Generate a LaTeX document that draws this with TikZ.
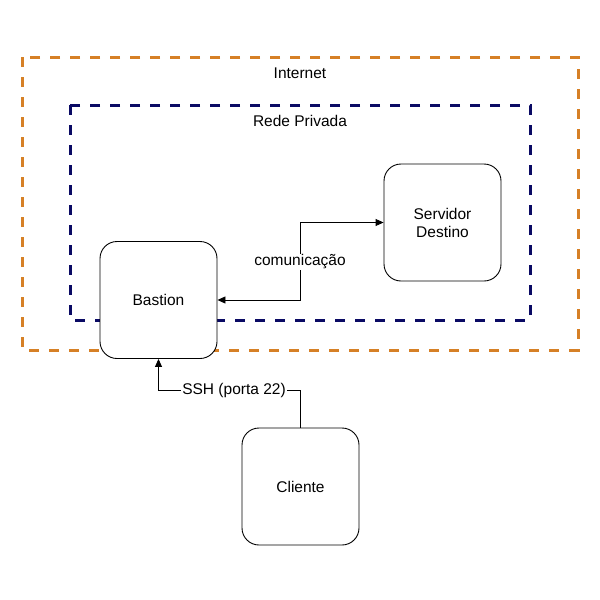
\documentclass[tikz,border=0pt]{standalone}
\usepackage{fontspec}
\setmainfont{Liberation Sans}
\usetikzlibrary{arrows.meta}
\definecolor{orangeline}{RGB}{214,128,38}
\definecolor{navyline}{RGB}{10,10,100}
\begin{document}
\begin{tikzpicture}[x=1pt,y=-1pt,
  font=\fontsize{15.5}{18}\selectfont,
  box/.style={draw=black, line width=0.9pt, rounded corners=17pt, minimum width=117pt, minimum height=117pt, align=center, fill=white, inner sep=0pt},
  zone/.style={line width=3pt, dash pattern=on 10pt off 10pt},
  conn/.style={draw=black, line width=0.9pt},
  tip/.style={-{Triangle[length=8pt,width=7pt]}},
  lbl/.style={fill=white, inner sep=1pt}
]
\useasboundingbox (0,0) rectangle (600,600);
\fill[white] (0,0) rectangle (600,600);
\draw[zone, draw=orangeline] (22,57) rectangle (578,350);
\draw[zone, draw=navyline] (70,105) rectangle (530,320);
\node (inet) at (300,73) {Internet};
\node (rede) at (300,121) {Rede Privada};
\node[box] (serv) at (442.5,222.5) {Servidor\\Destino};
\node[box] (bast) at (158.5,300) {Bastion};
\node[box] (cli) at (300.5,486.5) {Cliente};
\coordinate (ca) at (300,222.5);
\coordinate (cb) at (300,300);
\draw[conn, tip] (ca) -- (serv.west);
\draw[conn, tip] (ca) -- (cb) -- (bast.east);
\node[lbl] (com) at (300,262) {comunicação};
\coordinate (sa) at (300.5,390);
\coordinate (sb) at (158.5,390);
\draw[conn, tip] (cli.north) -- (sa) -- (sb) -- (bast.south);
\node[lbl] (ssh) at (234,390) {SSH (porta 22)};
\end{tikzpicture}
\end{document}
